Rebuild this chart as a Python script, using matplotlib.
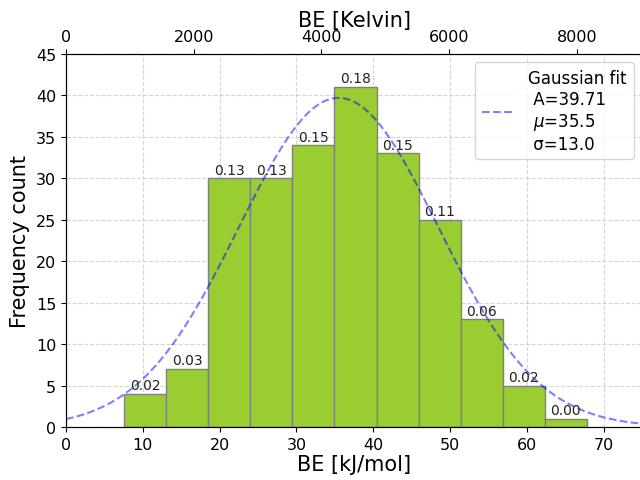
import numpy as np
import matplotlib
matplotlib.use("Agg")
import matplotlib.pyplot as plt

bin_edges = [7.58, 13.05, 18.53, 24.0, 29.48, 34.95, 40.43, 45.9, 51.38, 56.85, 62.33, 67.8]
counts = [4, 7, 30, 30, 34, 41, 33, 25, 13, 5, 1]
fit_A = 39.71
fit_mu = 35.5
fit_sigma = 13.0
kj_to_K = 1.0 / 0.008314

fig = plt.figure(figsize=(6.4, 4.81), dpi=100)
ax = fig.add_axes([66/640, 53/481, 576/640, 373/481])

edges = np.array(bin_edges)
widths = np.diff(edges)
total = sum(counts)
ax.bar(edges[:-1], counts, width=widths, align='edge', color='yellowgreen',
       edgecolor='gray', linewidth=1.0, zorder=2)
for l, w, c in zip(edges[:-1], widths, counts):
    ax.text(l + w/2, c + 0.2, f"{c/total:.2f}", ha='center', va='bottom',
            fontsize=10, color='#222222', zorder=4)

xs = np.linspace(0, 75, 400)
ys = fit_A * np.exp(-(xs - fit_mu)**2 / (2 * fit_sigma**2))
ax.plot(xs, ys, linestyle='--', color='blue', alpha=0.5, linewidth=1.5, zorder=3,
        label=f"Gaussian fit\n A={fit_A:.2f}\n $\\mu$={fit_mu:.1f}\n σ={fit_sigma:.1f}")

ax.set_xlim(0, 75)
ax.set_ylim(0, 45)
ax.set_yticks(range(0, 46, 5))
ax.grid(True, linestyle='--', color='#cccccc', alpha=0.8, zorder=0)
ax.set_axisbelow(True)
ax.tick_params(labelsize=11.5)
ax.set_xlabel("BE [kJ/mol]", fontsize=15, labelpad=2)
ax.set_ylabel("Frequency count", fontsize=15)
ax.spines['left'].set_color('#555555')

ax2 = ax.twiny()
ax2.set_xlim(0, 75 * kj_to_K)
ax2.set_xticks([0, 2000, 4000, 6000, 8000])
ax2.tick_params(labelsize=11.5)
ax2.set_xlabel("BE [Kelvin]", fontsize=15, labelpad=2)

ax.legend(loc='upper right', fontsize=12, handlelength=2.0)

fig.savefig("out.png", dpi=100)
